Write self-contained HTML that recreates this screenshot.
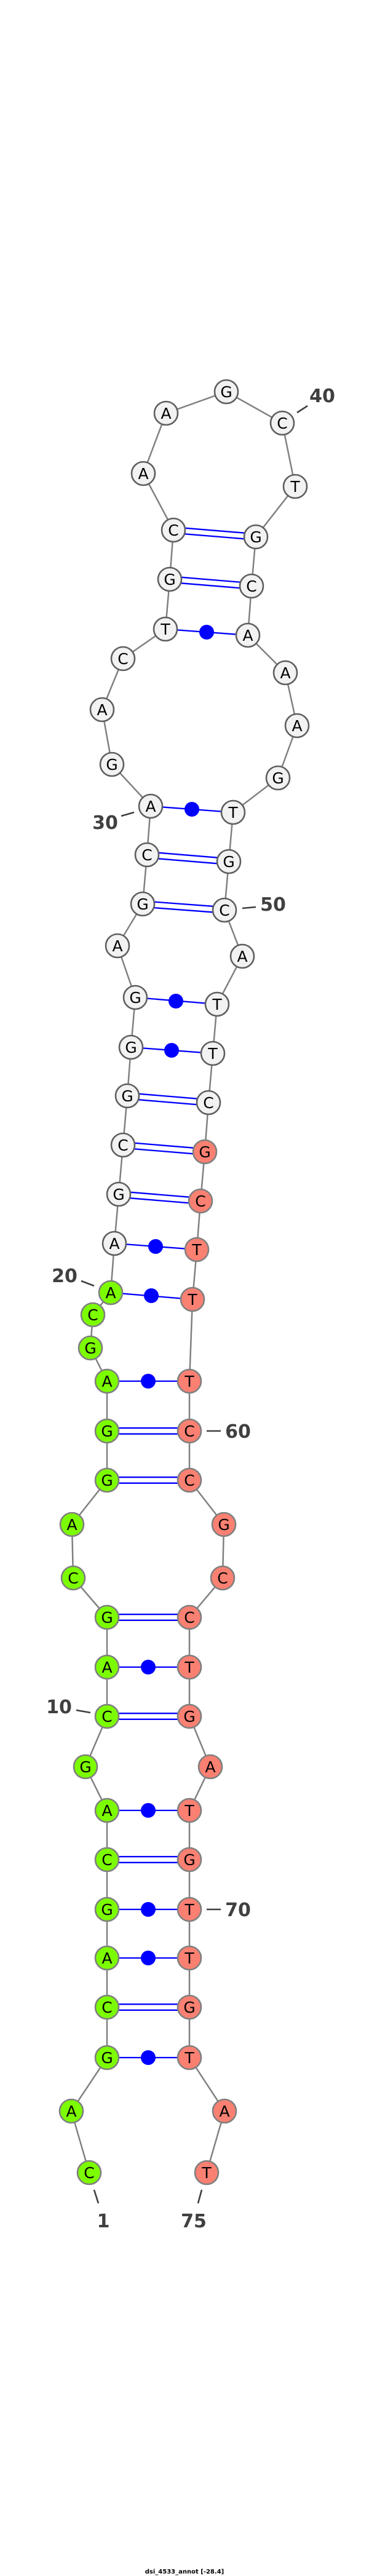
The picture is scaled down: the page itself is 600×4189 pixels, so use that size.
<!DOCTYPE html>
<html><head><meta charset="utf-8"><style>
html,body{margin:0;padding:0;background:#fff;}
svg{display:block;}
.b{stroke:#808080;stroke-width:2.5;fill:none;}
.p{stroke:#0000ff;stroke-width:2.3;fill:none;}
.d{fill:#0000ff;}
circle.w{fill:#f2f2f2;stroke:#5f5f5f;stroke-width:2.6;}
circle.g{fill:#7cfc00;stroke:#808080;stroke-width:2.6;}
circle.r{fill:#fa8072;stroke:#808080;stroke-width:2.6;}
text.n{font-family:"DejaVu Sans","Liberation Sans",sans-serif;font-size:25px;text-anchor:middle;fill:#000;}
text.l{font-family:"DejaVu Sans","Liberation Sans",sans-serif;font-size:30px;font-weight:bold;fill:#404040;text-anchor:middle;}
.t{stroke:#404040;stroke-width:2.6;}
</style></head><body>
<svg width="600" height="4189" viewBox="0 0 600 4189" xmlns="http://www.w3.org/2000/svg">
<polyline class="b" points="145,3533 116,3433 174,3346 174,3264 174,3184 174,3105 174,3024 174,2944 139,2873 174,2791 174,2711 174,2630 119,2566 117,2479 174,2407 174,2327 174,2246 147,2192 151,2138 180,2102 186,2022 193,1942 200,1862 207,1782 213,1703 220,1622 191,1538 232,1470 239,1390 245,1311 182,1243 166,1154 200,1071 269,1023 276,942 282,862 233,770 270,672 368,637 459,688 480,791 416,873 409,953 403,1033 464,1094 483,1180 452,1265 379,1321 372,1401 365,1480 394,1555 353,1633 346,1713 339,1793 333,1873 326,1953 320,2032 313,2113 308,2246 308,2327 308,2407 364,2479 362,2566 308,2630 308,2711 308,2791 342,2873 308,2944 308,3024 308,3105 308,3184 308,3264 308,3346 365,3433 336,3533"/>
<!-- single (dot) pairs -->
<g class="p">
<line x1="174" y1="3346" x2="308" y2="3346"/>
<line x1="174" y1="3184" x2="308" y2="3184"/>
<line x1="174" y1="3105" x2="308" y2="3105"/>
<line x1="174" y1="2944" x2="308" y2="2944"/>
<line x1="174" y1="2711" x2="308" y2="2711"/>
<line x1="174" y1="2246" x2="308" y2="2246"/>
<line x1="180" y1="2102" x2="313" y2="2113"/>
<line x1="186" y1="2022" x2="320" y2="2032"/>
<line x1="213" y1="1703" x2="346" y2="1713"/>
<line x1="220" y1="1622" x2="353" y2="1633"/>
<line x1="245" y1="1311" x2="379" y2="1321"/>
<line x1="269" y1="1023" x2="403" y2="1033"/>
</g>
<g class="d">
<circle cx="241" cy="3346" r="12"/>
<circle cx="241" cy="3184" r="12"/>
<circle cx="241" cy="3105" r="12"/>
<circle cx="241" cy="2944" r="12"/>
<circle cx="241" cy="2711" r="12"/>
<circle cx="241" cy="2246" r="12"/>
<circle cx="246" cy="2107" r="12"/>
<circle cx="253" cy="2027" r="12"/>
<circle cx="279" cy="1708" r="12"/>
<circle cx="286" cy="1628" r="12"/>
<circle cx="312" cy="1316" r="12"/>
<circle cx="336" cy="1028" r="12"/>
</g>
<!-- double pairs -->
<g class="p">
<line x1="174" y1="3259.2" x2="308" y2="3259.2"/><line x1="174" y1="3268.8" x2="308" y2="3268.8"/>
<line x1="174" y1="3019.2" x2="308" y2="3019.2"/><line x1="174" y1="3028.8" x2="308" y2="3028.8"/>
<line x1="174" y1="2786.2" x2="308" y2="2786.2"/><line x1="174" y1="2795.8" x2="308" y2="2795.8"/>
<line x1="174" y1="2625.2" x2="308" y2="2625.2"/><line x1="174" y1="2634.8" x2="308" y2="2634.8"/>
<line x1="174" y1="2402.2" x2="308" y2="2402.2"/><line x1="174" y1="2411.8" x2="308" y2="2411.8"/>
<line x1="174" y1="2322.2" x2="308" y2="2322.2"/><line x1="174" y1="2331.8" x2="308" y2="2331.8"/>
<line x1="193" y1="1937.2" x2="326" y2="1948.2"/><line x1="193" y1="1946.8" x2="326" y2="1957.8"/>
<line x1="200" y1="1857.2" x2="333" y2="1868.2"/><line x1="200" y1="1866.8" x2="333" y2="1877.8"/>
<line x1="207" y1="1777.2" x2="339" y2="1788.2"/><line x1="207" y1="1786.8" x2="339" y2="1797.8"/>
<line x1="232" y1="1465.2" x2="365" y2="1475.2"/><line x1="232" y1="1474.8" x2="365" y2="1484.8"/>
<line x1="239" y1="1385.2" x2="372" y2="1396.2"/><line x1="239" y1="1394.8" x2="372" y2="1405.8"/>
<line x1="276" y1="937.2" x2="409" y2="948.2"/><line x1="276" y1="946.8" x2="409" y2="957.8"/>
<line x1="282" y1="857.2" x2="416" y2="868.2"/><line x1="282" y1="866.8" x2="416" y2="877.8"/>
</g>
<!-- nodes -->
<g>
<circle class="g" cx="145" cy="3533" r="19"/><text class="n" x="145" y="3542">C</text>
<circle class="g" cx="116" cy="3433" r="19"/><text class="n" x="116" y="3442">A</text>
<circle class="g" cx="174" cy="3346" r="19"/><text class="n" x="174" y="3355">G</text>
<circle class="g" cx="174" cy="3264" r="19"/><text class="n" x="174" y="3273">C</text>
<circle class="g" cx="174" cy="3184" r="19"/><text class="n" x="174" y="3193">A</text>
<circle class="g" cx="174" cy="3105" r="19"/><text class="n" x="174" y="3114">G</text>
<circle class="g" cx="174" cy="3024" r="19"/><text class="n" x="174" y="3033">C</text>
<circle class="g" cx="174" cy="2944" r="19"/><text class="n" x="174" y="2953">A</text>
<circle class="g" cx="139" cy="2873" r="19"/><text class="n" x="139" y="2882">G</text>
<circle class="g" cx="174" cy="2791" r="19"/><text class="n" x="174" y="2800">C</text>
<circle class="g" cx="174" cy="2711" r="19"/><text class="n" x="174" y="2720">A</text>
<circle class="g" cx="174" cy="2630" r="19"/><text class="n" x="174" y="2639">G</text>
<circle class="g" cx="119" cy="2566" r="19"/><text class="n" x="119" y="2575">C</text>
<circle class="g" cx="117" cy="2479" r="19"/><text class="n" x="117" y="2488">A</text>
<circle class="g" cx="174" cy="2407" r="19"/><text class="n" x="174" y="2416">G</text>
<circle class="g" cx="174" cy="2327" r="19"/><text class="n" x="174" y="2336">G</text>
<circle class="g" cx="174" cy="2246" r="19"/><text class="n" x="174" y="2255">A</text>
<circle class="g" cx="147" cy="2192" r="19"/><text class="n" x="147" y="2201">G</text>
<circle class="g" cx="151" cy="2138" r="19"/><text class="n" x="151" y="2147">C</text>
<circle class="g" cx="180" cy="2102" r="19"/><text class="n" x="180" y="2111">A</text>
<circle class="w" cx="186" cy="2022" r="19"/><text class="n" x="186" y="2031">A</text>
<circle class="w" cx="193" cy="1942" r="19"/><text class="n" x="193" y="1951">G</text>
<circle class="w" cx="200" cy="1862" r="19"/><text class="n" x="200" y="1871">C</text>
<circle class="w" cx="207" cy="1782" r="19"/><text class="n" x="207" y="1791">G</text>
<circle class="w" cx="213" cy="1703" r="19"/><text class="n" x="213" y="1712">G</text>
<circle class="w" cx="220" cy="1622" r="19"/><text class="n" x="220" y="1631">G</text>
<circle class="w" cx="191" cy="1538" r="19"/><text class="n" x="191" y="1547">A</text>
<circle class="w" cx="232" cy="1470" r="19"/><text class="n" x="232" y="1479">G</text>
<circle class="w" cx="239" cy="1390" r="19"/><text class="n" x="239" y="1399">C</text>
<circle class="w" cx="245" cy="1311" r="19"/><text class="n" x="245" y="1320">A</text>
<circle class="w" cx="182" cy="1243" r="19"/><text class="n" x="182" y="1252">G</text>
<circle class="w" cx="166" cy="1154" r="19"/><text class="n" x="166" y="1163">A</text>
<circle class="w" cx="200" cy="1071" r="19"/><text class="n" x="200" y="1080">C</text>
<circle class="w" cx="269" cy="1023" r="19"/><text class="n" x="269" y="1032">T</text>
<circle class="w" cx="276" cy="942" r="19"/><text class="n" x="276" y="951">G</text>
<circle class="w" cx="282" cy="862" r="19"/><text class="n" x="282" y="871">C</text>
<circle class="w" cx="233" cy="770" r="19"/><text class="n" x="233" y="779">A</text>
<circle class="w" cx="270" cy="672" r="19"/><text class="n" x="270" y="681">A</text>
<circle class="w" cx="368" cy="637" r="19"/><text class="n" x="368" y="646">G</text>
<circle class="w" cx="459" cy="688" r="19"/><text class="n" x="459" y="697">C</text>
<circle class="w" cx="480" cy="791" r="19"/><text class="n" x="480" y="800">T</text>
<circle class="w" cx="416" cy="873" r="19"/><text class="n" x="416" y="882">G</text>
<circle class="w" cx="409" cy="953" r="19"/><text class="n" x="409" y="962">C</text>
<circle class="w" cx="403" cy="1033" r="19"/><text class="n" x="403" y="1042">A</text>
<circle class="w" cx="464" cy="1094" r="19"/><text class="n" x="464" y="1103">A</text>
<circle class="w" cx="483" cy="1180" r="19"/><text class="n" x="483" y="1189">A</text>
<circle class="w" cx="452" cy="1265" r="19"/><text class="n" x="452" y="1274">G</text>
<circle class="w" cx="379" cy="1321" r="19"/><text class="n" x="379" y="1330">T</text>
<circle class="w" cx="372" cy="1401" r="19"/><text class="n" x="372" y="1410">G</text>
<circle class="w" cx="365" cy="1480" r="19"/><text class="n" x="365" y="1489">C</text>
<circle class="w" cx="394" cy="1555" r="19"/><text class="n" x="394" y="1564">A</text>
<circle class="w" cx="353" cy="1633" r="19"/><text class="n" x="353" y="1642">T</text>
<circle class="w" cx="346" cy="1713" r="19"/><text class="n" x="346" y="1722">T</text>
<circle class="w" cx="339" cy="1793" r="19"/><text class="n" x="339" y="1802">C</text>
<circle class="r" cx="333" cy="1873" r="19"/><text class="n" x="333" y="1882">G</text>
<circle class="r" cx="326" cy="1953" r="19"/><text class="n" x="326" y="1962">C</text>
<circle class="r" cx="320" cy="2032" r="19"/><text class="n" x="320" y="2041">T</text>
<circle class="r" cx="313" cy="2113" r="19"/><text class="n" x="313" y="2122">T</text>
<circle class="r" cx="308" cy="2246" r="19"/><text class="n" x="308" y="2255">T</text>
<circle class="r" cx="308" cy="2327" r="19"/><text class="n" x="308" y="2336">C</text>
<circle class="r" cx="308" cy="2407" r="19"/><text class="n" x="308" y="2416">C</text>
<circle class="r" cx="364" cy="2479" r="19"/><text class="n" x="364" y="2488">G</text>
<circle class="r" cx="362" cy="2566" r="19"/><text class="n" x="362" y="2575">C</text>
<circle class="r" cx="308" cy="2630" r="19"/><text class="n" x="308" y="2639">C</text>
<circle class="r" cx="308" cy="2711" r="19"/><text class="n" x="308" y="2720">T</text>
<circle class="r" cx="308" cy="2791" r="19"/><text class="n" x="308" y="2800">G</text>
<circle class="r" cx="342" cy="2873" r="19"/><text class="n" x="342" y="2882">A</text>
<circle class="r" cx="308" cy="2944" r="19"/><text class="n" x="308" y="2953">T</text>
<circle class="r" cx="308" cy="3024" r="19"/><text class="n" x="308" y="3033">G</text>
<circle class="r" cx="308" cy="3105" r="19"/><text class="n" x="308" y="3114">T</text>
<circle class="r" cx="308" cy="3184" r="19"/><text class="n" x="308" y="3193">T</text>
<circle class="r" cx="308" cy="3264" r="19"/><text class="n" x="308" y="3273">G</text>
<circle class="r" cx="308" cy="3346" r="19"/><text class="n" x="308" y="3355">T</text>
<circle class="r" cx="365" cy="3433" r="19"/><text class="n" x="365" y="3442">A</text>
<circle class="r" cx="336" cy="3533" r="19"/><text class="n" x="336" y="3542">T</text>
</g>
<!-- index labels -->
<line class="t" x1="483" y1="671" x2="500" y2="660"/><text class="l" x="524" y="654">40</text>
<line class="t" x1="197" y1="1327" x2="218" y2="1321"/><text class="l" x="171" y="1348">30</text>
<line class="t" x1="394" y1="1477" x2="416" y2="1475"/><text class="l" x="444" y="1481">50</text>
<line class="t" x1="132" y1="2083" x2="153" y2="2091"/><text class="l" x="105" y="2085">20</text>
<line class="t" x1="336" y1="2327" x2="359" y2="2327"/><text class="l" x="387" y="2338">60</text>
<line class="t" x1="124" y1="2781" x2="147" y2="2785"/><text class="l" x="96" y="2786">10</text>
<line class="t" x1="336" y1="3105" x2="359" y2="3105"/><text class="l" x="387" y="3116">70</text>
<line class="t" x1="153" y1="3561" x2="160" y2="3583"/><text class="l" x="168" y="3622">1</text>
<line class="t" x1="328" y1="3561" x2="322" y2="3583"/><text class="l" x="315" y="3622">75</text>
<text x="300" y="4185" font-family="DejaVu Sans, Liberation Sans, sans-serif" font-size="10" font-weight="bold" text-anchor="middle" fill="#000">dsi_4533_annot [-28.4]</text>
</svg>
</body></html>
